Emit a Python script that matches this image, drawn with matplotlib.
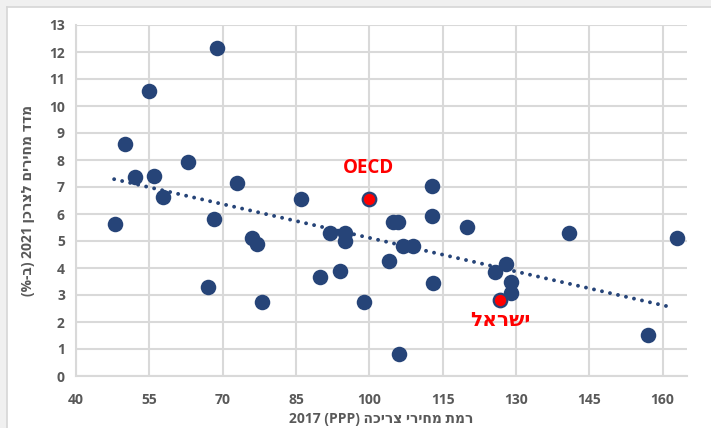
import numpy as np
import matplotlib.pyplot as plt

# price level 2017 (PPP, OECD = 100) vs CPI 2021 (%)
price_level = [48, 50, 52, 55, 56, 57.8, 62.9, 68.2, 68.8, 67, 72.9, 76, 77, 78,
               86, 89.9, 91.9, 94, 95, 95, 98.9, 104, 104.8, 105.9, 106, 106.9,
               108.9, 112.9, 112.9, 113, 119.9, 125.8, 128, 129, 129, 140.9, 157, 163]
cpi_2021 = [5.63, 8.6, 7.37, 10.55, 7.4, 6.63, 7.93, 5.8, 12.15, 3.3, 7.15, 5.1, 4.88, 2.73,
            6.55, 3.67, 5.3, 3.9, 5.3, 5.0, 2.74, 4.25, 5.7, 5.7, 0.8, 4.8,
            4.8, 5.94, 7.05, 3.46, 5.53, 3.86, 4.14, 3.49, 3.08, 5.31, 1.53, 5.1]

oecd_x, oecd_y = 99.9, 6.57
israel_x, israel_y = 126.8, 2.81

x_ticks = [40, 55, 70, 85, 100, 115, 130, 145, 160]
y_ticks = list(range(0, 14))

# Hebrew strings in visual (left-to-right) order, matplotlib has no bidi
x_label = "2017 (PPP) הכירצ יריחמ תמר"
y_label = "(%-ב) 2021 ןכרצל םיריחמ דדמ"
israel_label = "לארשי"

plt.rcParams['font.family'] = ['Open Sans', 'DejaVu Sans']

navy = '#264478'
grey_txt = '#595959'
grid_c = '#d9d9d9'

fig = plt.figure(figsize=(7.11, 4.28), dpi=100)
fig.patch.set_facecolor('#f0f0f0')
# white chart panel with thin border on top/left
bg = fig.add_axes([7 / 711, -0.01, 1.01, 1 - 7 / 428 + 0.01], zorder=-5)
bg.set_xticks([])
bg.set_yticks([])
bg.set_facecolor('white')
for side in bg.spines.values():
    side.set_color('#d6d6d6')
    side.set_linewidth(1.2)

ax = fig.add_axes([76 / 711, 1 - 376 / 428, (687 - 76) / 711, (376 - 25) / 428])
ax.set_facecolor('white')

# linear trendline, like excel's
all_x = np.array(price_level + [oecd_x, israel_x])
all_y = np.array(cpi_2021 + [oecd_y, israel_y])
slope, icpt = np.polyfit(all_x, all_y, 1)
tx = np.array([47.8, 161.6])
ax.plot(tx, slope * tx + icpt, linestyle=(0, (0.01, 2.1)), color=navy,
        linewidth=2.8, dash_capstyle='round', zorder=2)

ax.scatter(price_level, cpi_2021, s=125, color=navy, zorder=3, linewidths=0)
ax.scatter([oecd_x, israel_x], [oecd_y, israel_y], s=95, color='#ff0000',
           edgecolors=navy, linewidths=1.6, zorder=4)

ax.text(oecd_x, oecd_y + 0.75, "OECD", color='#ff0000', fontsize=13.5,
        fontweight='bold', ha='center', va='bottom')
ax.text(israel_x, israel_y - 0.4, israel_label, color='#ff0000', fontsize=14.5,
        fontweight='bold', ha='center', va='top')

ax.set_xlim(40, 165)
ax.set_ylim(0, 13)
ax.set_xticks(x_ticks)
ax.set_yticks(y_ticks)
ax.grid(True, color=grid_c, linewidth=1.5)
ax.set_axisbelow(True)
for side in ['top', 'right']:
    ax.spines[side].set_visible(False)
for side in ['left', 'bottom']:
    ax.spines[side].set_color(grid_c)
    ax.spines[side].set_linewidth(1.5)
ax.tick_params(length=0, pad=12, labelsize=10, labelcolor=grey_txt)
ax.tick_params(axis='y', pad=8)
for lbl in ax.get_xticklabels() + ax.get_yticklabels():
    lbl.set_fontweight('bold')

ax.set_xlabel(x_label, fontsize=10, color=grey_txt, fontweight='bold', labelpad=4)
ax.set_ylabel(y_label, fontsize=10, color=grey_txt, fontweight='bold', labelpad=10)

fig.savefig('out.png', dpi=100, facecolor=fig.get_facecolor())
